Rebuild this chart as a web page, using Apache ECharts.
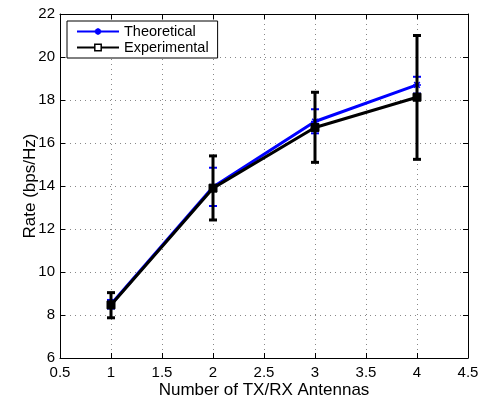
<!DOCTYPE html>
<html>
<head>
<meta charset="utf-8">
<script src="https://cdn.jsdelivr.net/npm/echarts@6/dist/echarts.min.js"></script>
<style>
  html, body { margin: 0; padding: 0; background: #fff; }
  #chart { width: 490px; height: 400px; }
</style>
</head>
<body>
<div id="chart"></div>
<script>
// antennas
var antennas = [1, 2, 3, 4];
// theoretical rate + its error range
var theoRate = [8.5, 13.95, 17.0, 18.7];
var theoLow = [8.3, 13.07, 16.45, 18.3];
var theoHigh = [8.7, 14.85, 17.57, 19.08];
// experimental rate + error range
var expRate = [8.47, 13.9, 16.72, 18.13];
var expLow = [7.87, 12.42, 15.1, 15.24];
var expHigh = [9.04, 15.4, 18.36, 21.0];

var xTicks = [0.5, 1, 1.5, 2, 2.5, 3, 3.5, 4, 4.5];
var yTicks = [6, 8, 10, 12, 14, 16, 18, 20, 22];

var font = "Liberation Sans, Arial, Helvetica, sans-serif";
var star = "path://M0,-10L0,10M-10,0L10,0M-7,-7L7,7M-7,7L7,-7";

function pairs(xs, ys) {
  var out = [];
  for (var i = 0; i < xs.length; i++) out.push([xs[i], ys[i]]);
  return out;
}
function errData(xs, lo, hi) {
  var out = [];
  for (var i = 0; i < xs.length; i++) out.push([xs[i], lo[i], hi[i]]);
  return out;
}
//errorbar draw
function errRender(color, width) {
  return function (params, api) {
    var lo = api.coord([api.value(0), api.value(1)]);
    var hi = api.coord([api.value(0), api.value(2)]);
    var w = 4;
    var st = { stroke: color, lineWidth: width };
    return {
      type: "group",
      children: [
        { type: "line", shape: { x1: lo[0], y1: lo[1], x2: hi[0], y2: hi[1] }, style: st },
        { type: "line", shape: { x1: lo[0] - w, y1: lo[1], x2: lo[0] + w, y2: lo[1] }, style: st },
        { type: "line", shape: { x1: hi[0] - w, y1: hi[1], x2: hi[0] + w, y2: hi[1] }, style: st }
      ]
    };
  };
}

var myChart = echarts.init(document.getElementById("chart"));

var axisX = {
  type: "value",
  min: 0.5,
  max: 4.5,
  interval: 0.5,
  axisLine: { show: true, lineStyle: { color: "#000", width: 1 } },
  axisTick: { inside: true, length: 5, lineStyle: { color: "#000" } },
  axisLabel: {
    color: "#000", fontFamily: font, fontSize: 15, margin: 7,
    formatter: function (v) { return xTicks.indexOf(v) >= 0 ? String(v) : ""; }
  },
  splitLine: { show: true, lineStyle: { color: "#888", type: [1, 4] } },
  name: "Number of TX/RX Antennas",
  nameLocation: "middle",
  nameGap: 24,
  nameMoveOverlap: false,
  nameTextStyle: { color: "#000", fontFamily: font, fontSize: 17 }
};
var axisY = {
  type: "value",
  min: 6,
  max: 22,
  interval: 2,
  axisLine: { show: true, lineStyle: { color: "#000", width: 1 } },
  axisTick: { inside: true, length: 5, lineStyle: { color: "#000" } },
  axisLabel: {
    color: "#000", fontFamily: font, fontSize: 15, margin: 5,
    formatter: function (v) { return yTicks.indexOf(v) >= 0 ? String(v) : ""; }
  },
  splitLine: { show: true, lineStyle: { color: "#888", type: [1, 4] } },
  name: "Rate (bps/Hz)",
  nameLocation: "middle",
  nameGap: 21,
  nameMoveOverlap: false,
  nameTextStyle: { color: "#000", fontFamily: font, fontSize: 17 }
};
// mirror axes (top / right) for ticks only
var axisX2 = {
  type: "value", min: 0.5, max: 4.5, interval: 0.5, position: "top",
  axisLine: { show: true, lineStyle: { color: "#000", width: 1 } },
  axisTick: { inside: true, length: 5, lineStyle: { color: "#000" } },
  axisLabel: { show: false }, splitLine: { show: false }
};
var axisY2 = {
  type: "value", min: 6, max: 22, interval: 2, position: "right",
  axisLine: { show: true, lineStyle: { color: "#000", width: 1 } },
  axisTick: { inside: true, length: 5, lineStyle: { color: "#000" } },
  axisLabel: { show: false }, splitLine: { show: false }
};

var option = {
  animation: false,
  backgroundColor: "#fff",
  grid: { left: 60, right: 22, top: 14, bottom: 42, containLabel: false, outerBoundsMode: "none" },
  legend: {
    orient: "vertical",
    left: 67,
    top: 21,
    padding: [3, 9, 3, 9],
    itemGap: 1,
    itemWidth: 42,
    itemHeight: 8,
    borderColor: "#000",
    borderWidth: 1,
    backgroundColor: "#fff",
    textStyle: { color: "#000", fontFamily: font, fontSize: 14.5 },
    data: [
      "Theoretical",
      { name: "Experimental", itemStyle: { color: "#fff", borderColor: "#000", borderWidth: 1.5 } }
    ]
  },
  xAxis: [axisX, axisX2],
  yAxis: [axisY, axisY2],
  series: [
    {
      type: "custom",
      name: "theoErr",
      renderItem: errRender("#0000ff", 2),
      data: errData(antennas, theoLow, theoHigh),
      z: 3
    },
    {
      type: "line",
      name: "Theoretical",
      data: pairs(antennas, theoRate),
      symbol: star,
      symbolSize: 8,
      lineStyle: { color: "#0000ff", width: 3 },
      itemStyle: { color: "#0000ff", borderColor: "#0000ff", borderWidth: 1.5 },
      z: 4
    },
    {
      type: "custom",
      name: "expErr",
      renderItem: errRender("#000", 3),
      data: errData(antennas, expLow, expHigh),
      z: 5
    },
    {
      type: "line",
      name: "Experimental",
      data: pairs(antennas, expRate),
      symbol: "rect",
      symbolSize: 8,
      lineStyle: { color: "#000", width: 3 },
      itemStyle: { color: "#000", borderColor: "#000", borderWidth: 1 },
      z: 6
    }
  ]
};
myChart.setOption(option);
</script>
</body>
</html>
